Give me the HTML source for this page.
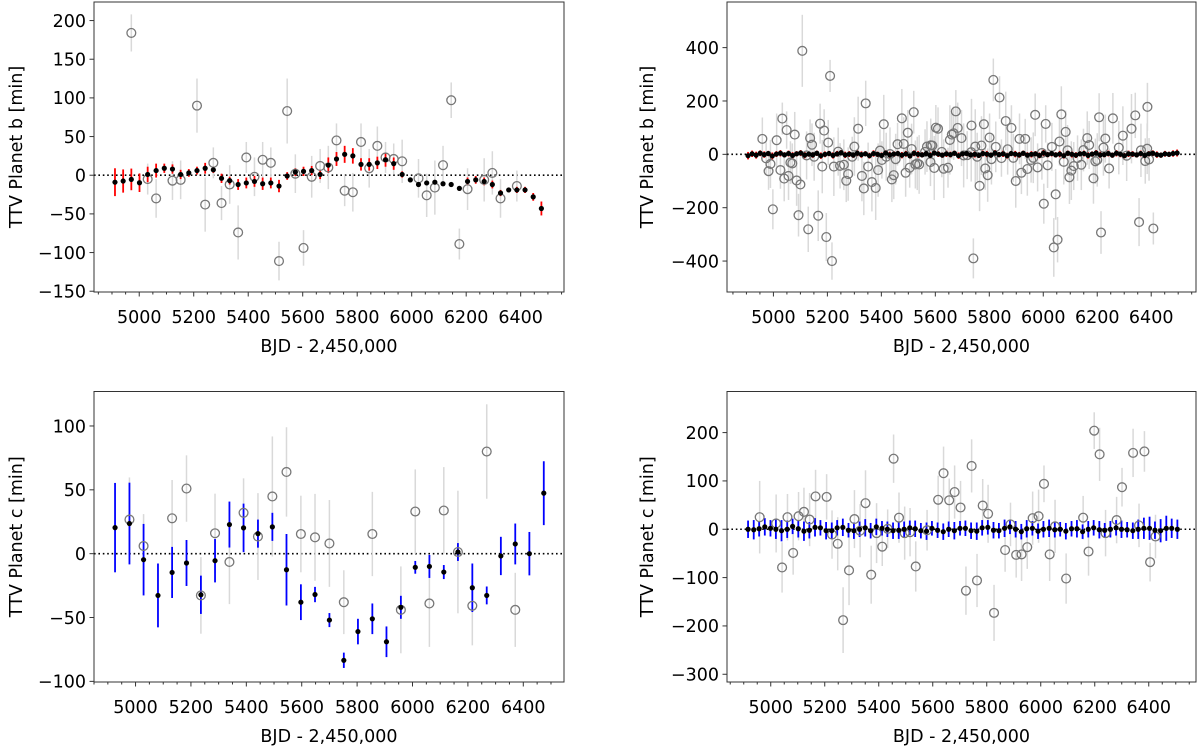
<!DOCTYPE html>
<html><head><meta charset="utf-8"><title>TTV plots</title>
<style>
html,body{margin:0;padding:0;background:#fff;}
svg{display:block;font-family:"DejaVu Sans","Liberation Sans",sans-serif;}
</style></head>
<body>
<svg id="fig" width="1200" height="751" viewBox="0 0 1200 751" xmlns="http://www.w3.org/2000/svg"></svg>
<script>
// ---------- Panel 1: TTV Planet b (fit residual view) ----------
const p1ModelX = [4911,4941,4971,5001,5031,5062,5092,5122,5152,5182,5212,5242,5272,5302,5332,5363,5393,5423,5453,5483,5513,5543,5573,5603,5633,5664,5694,5724,5754,5784,5814,5844,5874,5904,5934,5965,5995,6025,6055,6085,6115,6145,6175,6205,6235,6266,6296,6326,6356,6386,6416,6446,6476];
const p1ModelY = [-9,-7.5,-5.4,-9.7,1,6,9,8,1,3,6,9,7,-4,-7,-12,-10,-8,-11,-10,-14,-1,4,5,6,1,13,21,27,25,14,14,16,20,15,1,-6,-12,-10,-9,-11,-12,-17,-8,-6,-8,-12,-23,-19,-19,-19,-28,-43];
const p1ModelErr = [18,15,14,12,10,9,6,6,6,5,5,7,4,6,5,7,7,7,8,7,8,5,5,6,6,6,10,9,11,10,8,8,8,9,8,4,2,3,2,2,2,2,3,5,5,5,5,4,3,4,4,5,9];
const p1ObsX = [4971,5031,5062,5122,5152,5212,5242,5272,5302,5332,5363,5393,5423,5453,5483,5513,5543,5573,5603,5633,5664,5694,5724,5754,5784,5814,5844,5874,5904,5934,5965,6025,6055,6085,6115,6145,6175,6205,6266,6296,6326,6386];
const p1ObsY = [184,-5,-30,-7,-6,90,-38,16,-36,-12,-74,23,-2,20,16,-111,83,2,-94,-2,12,10,45,-20,-22,43,9,38,23,21,18,-4,-26,-16,13,97,-89,-18,-6,3,-30,-14];
const p1ObsErr = [24,20,25,25,25,35,35,20,22,25,35,20,25,23,20,25,42,25,23,27,22,28,22,20,25,24,25,25,20,20,28,25,28,35,25,23,20,27,28,28,25,20];

// ---------- Panel 2: TTV Planet b (all data) ----------
const p2ModelX = [4906,4921,4936,4951,4966,4981,4996,5011,5026,5041,5056,5071,5086,5101,5116,5131,5146,5161,5176,5191,5206,5221,5236,5251,5266,5281,5296,5311,5326,5341,5356,5371,5386,5401,5416,5431,5446,5461,5476,5491,5506,5521,5536,5551,5566,5581,5596,5611,5626,5641,5656,5671,5686,5701,5716,5731,5746,5761,5776,5791,5806,5821,5836,5851,5866,5881,5896,5911,5926,5941,5956,5971,5986,6001,6016,6031,6046,6061,6076,6091,6106,6121,6136,6151,6166,6181,6196,6211,6226,6241,6256,6271,6286,6301,6316,6331,6346,6361,6376,6391,6406,6421,6436,6451,6466,6481,6496];
const p2ModelY = [-5,2,-3,4,-1,3,-6,1,4,-2,3,-4,2,5,-3,1,-2,4,-5,0,3,-4,2,6,-2,1,-3,4,-1,2,-5,3,0,-4,5,-2,1,3,-3,2,-6,4,0,-2,3,-4,5,1,-3,2,-1,4,-5,2,3,-2,0,-4,3,1,-3,5,-1,2,-5,3,1,-2,4,-3,0,2,-4,5,-1,3,-2,1,-5,4,0,-3,2,3,-4,1,5,-2,-1,3,-3,4,0,-5,2,1,-2,3,-4,2,4,-1,-3,2,0,3,5];
const p2ModelErr = [14,12,13,11,12,10,13,11,12,10,11,12,10,11,12,10,11,10,12,11,10,12,11,10,12,11,10,11,12,10,11,12,10,11,10,12,11,10,12,11,10,11,12,10,11,12,10,11,10,12,11,10,12,11,10,11,12,10,11,12,10,11,10,12,11,10,12,11,10,11,12,10,11,12,10,11,10,12,11,10,12,11,10,11,12,10,11,12,10,11,10,12,11,10,12,11,10,11,12,10,11,12,10,11,10,12,13];
const p2ObsX = [4959,4973,4982,4989,4998,5012,5026,5033,5040,5049,5056,5063,5070,5079,5086,5093,5100,5107,5123,5129,5136,5143,5151,5166,5173,5181,5188,5196,5203,5210,5217,5224,5240,5247,5261,5270,5277,5292,5300,5314,5328,5335,5342,5351,5365,5379,5388,5395,5402,5409,5418,5432,5439,5446,5453,5460,5476,5483,5490,5498,5505,5512,5520,5526,5533,5540,5562,5569,5583,5589,5582,5596,5602,5610,5624,5631,5647,5654,5661,5668,5676,5683,5697,5705,5718,5733,5734,5741,5748,5755,5764,5771,5780,5785,5794,5801,5808,5815,5824,5838,5845,5861,5868,5882,5889,5898,5912,5919,5933,5941,5955,5963,5970,5979,5995,6002,6009,6016,6032,6039,6046,6053,6060,6067,6076,6083,6090,6097,6104,6113,6127,6141,6149,6163,6170,6186,6193,6200,6207,6214,6223,6230,6244,6258,6280,6295,6309,6327,6341,6355,6362,6378,6385,6386,6392,6408];
const p2ObsY = [58,-15,-63,-36,-206,53,-59,134,-91,91,-81,-31,-34,74,-98,-228,-113,388,-4,-281,61,36,-9,-230,115,-46,89,-310,44,294,-400,-46,10,-43,-39,-99,-74,-9,29,96,-81,-128,191,-46,-104,-126,-59,14,-21,113,-9,1,-94,-78,-18,38,135,39,-69,81,-50,20,158,-38,-34,-38,9,29,34,33,-29,-51,100,96,9,-54,-50,54,74,79,161,99,61,-4,-3,8,108,-390,29,-9,-118,33,113,-53,-78,63,-18,279,28,213,-14,125,19,99,-13,-100,58,-69,58,-55,-21,-13,148,-49,5,-185,114,-41,28,-349,-150,-320,48,150,-28,84,15,-86,-61,-44,-14,-39,16,61,35,-90,-26,-21,139,-293,25,59,-53,135,25,70,-5,96,146,-254,15,-25,21,178,-19,-278];
const p2ObsErr = [80,60,70,90,75,100,70,60,85,70,90,80,75,85,95,80,110,135,90,85,70,80,90,95,75,100,80,90,85,60,70,110,90,85,95,80,100,75,110,120,95,100,85,90,110,120,100,80,70,110,90,100,85,90,95,80,110,100,90,85,75,95,80,90,100,110,85,95,100,70,90,120,85,80,95,110,75,130,90,100,80,95,105,120,90,110,100,75,140,90,95,110,85,80,100,90,95,80,95,80,70,110,95,85,90,100,95,80,75,100,85,95,80,90,100,75,70,85,90,110,95,85,90,105,85,80,95,100,110,90,85,95,80,100,90,95,85,100,90,80,105,90,75,95,100,110,95,130,85,90,100,85,95,90,80];

// ---------- Panel 3: TTV Planet c (fit residual view) ----------
const p3ModelX = [4926,4978,5029,5081,5132,5184,5236,5287,5339,5390,5442,5494,5545,5597,5648,5700,5752,5803,5855,5906,5958,6010,6061,6113,6164,6216,6268,6319,6371,6422,6474];
const p3ModelY = [20.4,23.6,-4.7,-32.7,-14.7,-7.3,-32.2,-5.5,22.8,20.2,15.7,21,-12.6,-38,-32,-52,-83.5,-61,-51,-69,-42,-10.7,-10,-14.4,1.3,-26.7,-32.7,-1.8,7.6,0,47.4];
const p3ModelErr = [35,32,28,25,20,18,15,17,18,19,11,11,28,14,6,5.5,6,10,12,12,9,5,9,5.5,7,19,7,15,16,17,25];
const p3ObsX = [4978,5029,5132,5184,5236,5287,5339,5390,5442,5494,5545,5597,5648,5700,5752,5855,5958,6010,6061,6113,6164,6216,6268,6371];
const p3ObsY = [26.7,6,27.7,51,-32.7,16,-6.5,32,13.4,44.8,64,15.4,12.8,8,-38,15.4,-44,33,-39,33.8,1.3,-40.8,80,-44];
const p3ObsErr = [33,25,30,26,30,31,33,27,34,47,35,30,34,34,25,33,34,33,34,34,48,31,37,29];

// ---------- Panel 4: TTV Planet c (all data) ----------
const p4ModelX = [4916,4937,4957,4978,4999,5019,5040,5061,5081,5102,5123,5143,5164,5184,5205,5226,5246,5267,5288,5308,5329,5350,5370,5391,5412,5432,5453,5474,5494,5515,5535,5556,5577,5597,5618,5639,5659,5680,5701,5721,5742,5763,5783,5804,5825,5845,5866,5886,5907,5928,5948,5969,5990,6010,6031,6052,6072,6093,6114,6134,6155,6176,6196,6217,6237,6258,6279,6299,6320,6341,6361,6382,6403,6423,6444,6465,6485,6506];
const p4ModelY = [0,-1,1,5,2,0,-3,0,6,1,-4,-2,4,3,-3,-3,3,4,-2,-3,0,3,-3,5,2,0,-3,-2,0,3,1,-3,-4,2,-2,-5,0,-3,2,2,-3,-4,3,4,-2,-3,2,5,0,-5,1,2,-4,0,2,-1,0,-4,1,1,-5,0,3,-1,-2,0,3,0,-1,-3,0,2,2,-2,-3,2,2,0];
const p4ModelErr = [18,20,16,18,17,20,22,18,16,18,20,17,19,16,18,17,16,18,15,17,16,18,16,17,15,16,17,18,16,15,17,16,18,15,16,17,16,18,15,16,17,18,16,15,17,16,18,15,17,16,18,15,16,17,18,16,15,17,16,18,15,17,16,18,15,17,16,18,16,17,20,22,24,18,24,26,20,20];
const p4ObsX = [4959,5020,5042,5062,5083,5103,5123,5144,5166,5207,5227,5248,5268,5290,5310,5331,5351,5372,5392,5413,5433,5455,5475,5496,5516,5537,5579,5620,5640,5661,5681,5703,5723,5744,5764,5785,5805,5827,5868,5888,5909,5929,5950,5970,5992,6012,6033,6053,6094,6157,6177,6198,6218,6240,6281,6301,6342,6364,6384,6405,6425];
const p4ObsY = [25,12,-79,25,-49,27,36,20,68,67,-11,-30,-188,-85,21,-3,54,-94,-8,-36,1,146,24,-8,-6,-77,-2,61,116,60,77,45,-127,131,-106,49,32,-173,-43,10,-53,-52,-37,23,27,94,-52,6,-102,24,-46,204,155,-8,19,87,158,8,161,-68,-15];
const p4ObsErr = [75,60,52,48,45,50,50,55,55,47,50,55,68,72,60,55,68,60,62,40,40,50,52,55,50,52,42,50,55,45,55,55,50,55,55,55,60,58,45,45,47,55,45,55,55,38,55,55,52,45,50,38,55,48,48,40,50,45,42,40,45];

const PANELS = [
  {id:'p1', L:94, R:564, T:2, B:292, xmin:4834, xmax:6559, ymin:-151, ymax:224, yticks:[-150,-100,-50,0,50,100,150,200], ylab:'TTV Planet b [min]', ylx:16, color:'#ff0000',
   mX:p1ModelX, mY:p1ModelY, mE:p1ModelErr, oX:p1ObsX, oY:p1ObsY, oE:p1ObsErr},
  {id:'p2', L:727, R:1196, T:2, B:292, xmin:4828, xmax:6566, ymin:-516, ymax:571, yticks:[-400,-200,0,200,400], ylab:'TTV Planet b [min]', ylx:647, color:'#ff0000',
   mX:p2ModelX, mY:p2ModelY, mE:p2ModelErr, oX:p2ObsX, oY:p2ObsY, oE:p2ObsErr},
  {id:'p3', L:94, R:564, T:391.5, B:682, xmin:4850, xmax:6547, ymin:-100.5, ymax:127, yticks:[-100,-50,0,50,100], ylab:'TTV Planet c [min]', ylx:16, color:'#0000ff',
   mX:p3ModelX, mY:p3ModelY, mE:p3ModelErr, oX:p3ObsX, oY:p3ObsY, oE:p3ObsErr},
  {id:'p4', L:727, R:1196, T:391.5, B:682, xmin:4838, xmax:6575, ymin:-316, ymax:285, yticks:[-300,-200,-100,0,100,200], ylab:'TTV Planet c [min]', ylx:647, color:'#0000ff',
   mX:p4ModelX, mY:p4ModelY, mE:p4ModelErr, oX:p4ObsX, oY:p4ObsY, oE:p4ObsErr}
];
const XTICKS = [5000,5200,5400,5600,5800,6000,6200,6400];
const FS = 17.5;

const NS = 'http://www.w3.org/2000/svg';
const svg = document.getElementById('fig');
function mk(tag, attrs, parent){
  const e = document.createElementNS(NS, tag);
  for (const k in attrs) e.setAttribute(k, attrs[k]);
  (parent||svg).appendChild(e);
  return e;
}

PANELS.forEach(function(P){
  const g = mk('g', {});
  
  
  const sx = v => P.L + (v - P.xmin) / (P.xmax - P.xmin) * (P.R - P.L);
  const sy = v => P.B - (v - P.ymin) / (P.ymax - P.ymin) * (P.B - P.T);
  const clip = 'clip-' + P.id;
  const defs = mk('defs', {}, g);
  mk('rect', {x:P.L, y:P.T, width:P.R-P.L, height:P.B-P.T}, mk('clipPath', {id:clip}, defs));
  const plot = mk('g', {'clip-path':'url(#'+clip+')'}, g);
  
  

  const zl = mk('line', {x1:P.L, x2:P.R, y1:sy(0), y2:sy(0), stroke:'#000', 'stroke-width':1.6, 'stroke-dasharray':'1.6,2.8'}, plot);
  
  

  const n = Math.min(P.oX.length, P.oY.length);
  for (let i=0;i<n;i++){
    const e = P.oE[i] !== undefined ? P.oE[i] : 60;
    const l = mk('line', {x1:sx(P.oX[i]), x2:sx(P.oX[i]), y1:sy(P.oY[i]-e), y2:sy(P.oY[i]+e), stroke:'#d9d9d9', 'stroke-width':1.5}, plot);
    
    
  }
  const m = Math.min(P.mX.length, P.mY.length);
  for (let i=0;i<m;i++){
    const e = P.mE[i] !== undefined ? P.mE[i] : 10;
    const l = mk('line', {x1:sx(P.mX[i]), x2:sx(P.mX[i]), y1:sy(P.mY[i]-e), y2:sy(P.mY[i]+e), stroke:P.color, 'stroke-width':1.8}, plot);
    
    
  }
  for (let i=0;i<n;i++){
    const c = mk('circle', {cx:sx(P.oX[i]), cy:sy(P.oY[i]), r:4.4, fill:'none', stroke:'#777', 'stroke-width':1.3}, plot);
    
    
  }
  for (let i=0;i<m;i++){
    const c = mk('circle', {cx:sx(P.mX[i]), cy:sy(P.mY[i]), r:2.6, fill:'#000'}, plot);
    
    
  }

  const fr = mk('rect', {x:P.L, y:P.T, width:P.R-P.L, height:P.B-P.T, fill:'none', stroke:'#333', 'stroke-width':1}, g);
  
  

  for (let v=4850; v<=P.xmax; v+=50){
    if (v < P.xmin) continue;
    const major = XTICKS.indexOf(v) >= 0;
    mk('line', {x1:sx(v), x2:sx(v), y1:P.B, y2:P.B+(major?4.5:2.5), stroke:'#333', 'stroke-width':1}, g);
  }
  XTICKS.forEach(function(v){
    const t = mk('text', {x:sx(v), y:P.B+31, 'text-anchor':'middle', 'font-size':FS, fill:'#000'}, g);
    t.textContent = String(v);
    
    
  });
  P.yticks.forEach(function(v){
    mk('line', {x1:P.L-4.5, x2:P.L, y1:sy(v), y2:sy(v), stroke:'#333', 'stroke-width':1}, g);
    const t = mk('text', {x:P.L-8, y:sy(v)+6.3, 'text-anchor':'end', 'font-size':FS, fill:'#000'}, g);
    t.textContent = (v < 0 ? '\u2212' + Math.abs(v) : String(v));
    
    
  });
  const xt = mk('text', {x:(P.L+P.R)/2, y:P.B+60, 'text-anchor':'middle', 'font-size':FS, fill:'#000'}, g);
  xt.textContent = 'BJD - 2,450,000';
  
  
  const cy = (P.T+P.B)/2;
  const yt = mk('text', {x:P.ylx, y:cy, 'text-anchor':'middle', 'font-size':FS, fill:'#000', transform:'rotate(-90 '+P.ylx+' '+cy+')', dy:6}, g);
  yt.textContent = P.ylab;
  
  
});
</script>
</body></html>
